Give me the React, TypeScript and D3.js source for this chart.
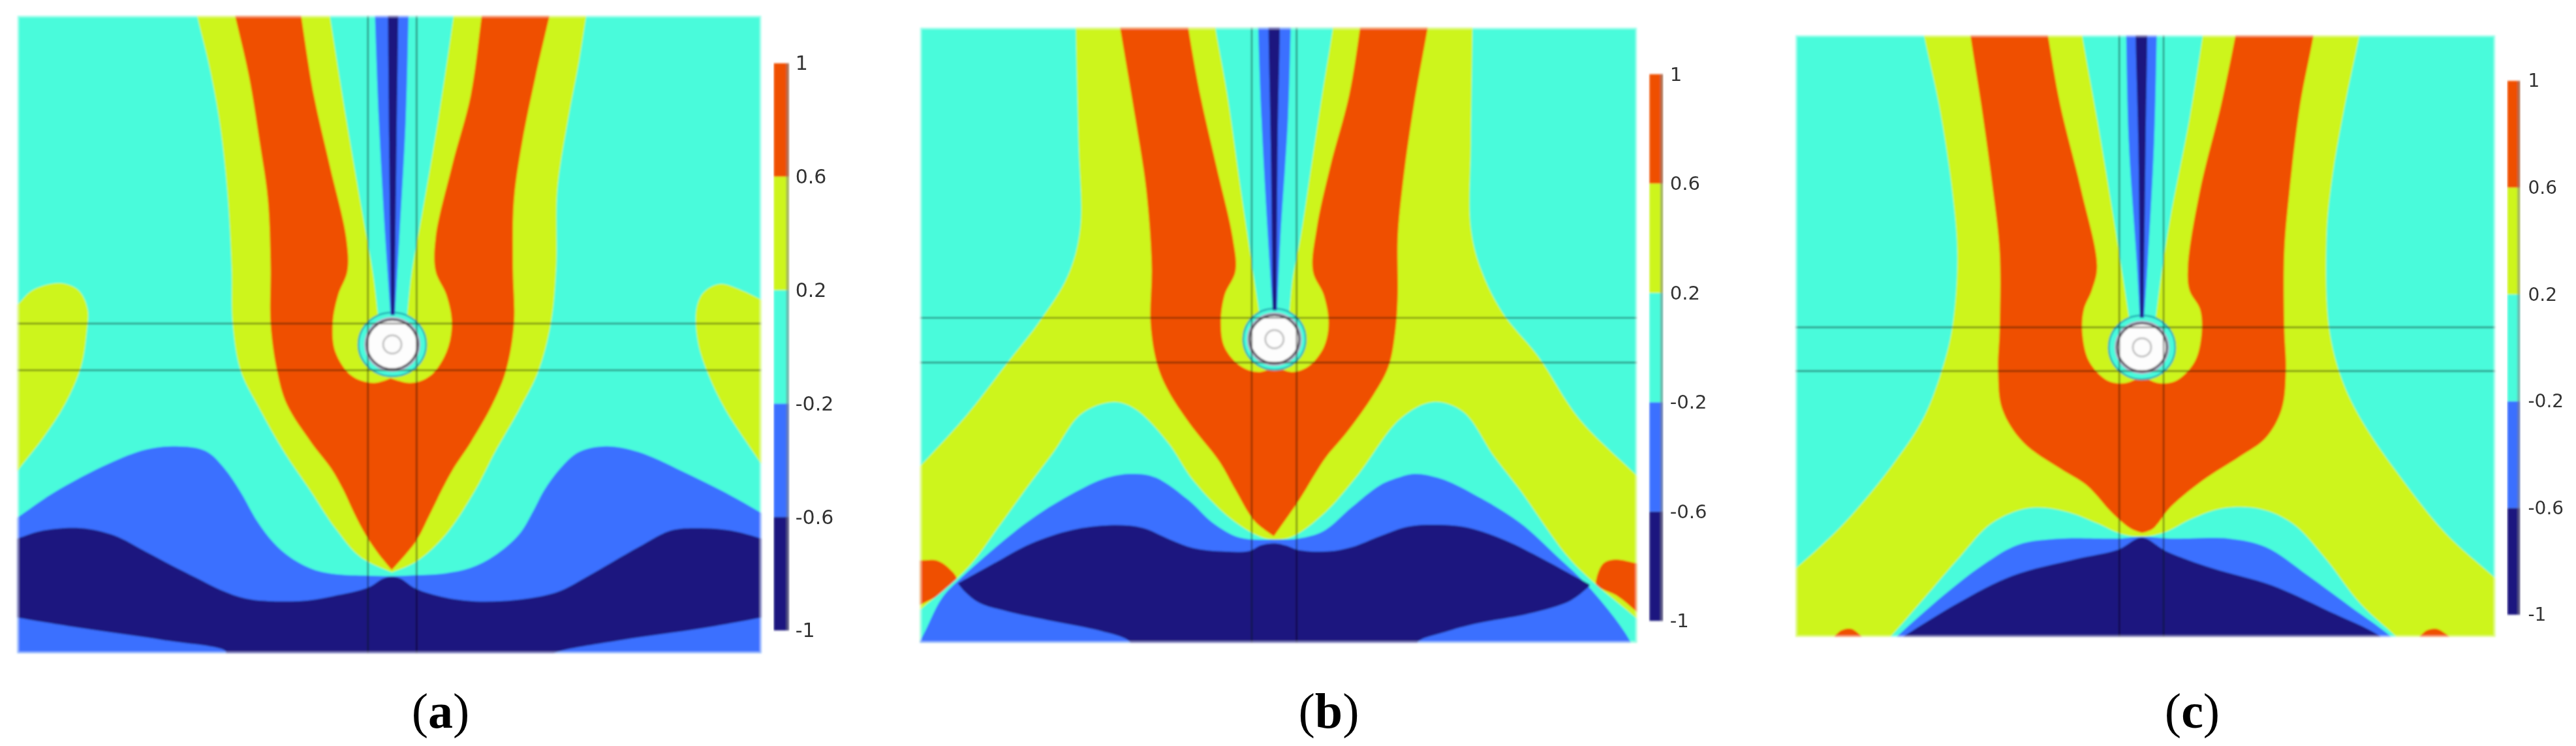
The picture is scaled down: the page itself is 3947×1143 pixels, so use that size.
import React from 'react'
import * as d3 from 'd3'

type Pt = [number, number]

// contour edges on a 1568 x 1568 reading grid per crop
const levelEdges = [-1, -0.6, -0.2, 0.2, 0.6, 1]
const levelColors = ['#1a157f', '#3a70ff', '#48fbdb', '#cdf51e', '#ef5000']
const tickLabels = ['1', '0.6', '0.2', '-0.2', '-0.6', '-1']
const tickValues = [1, 0.6, 0.2, -0.2, -0.6, -1]
const [NAVY, BLUE, CYAN, YELLOW, ORANGE] = levelColors

// panel a
const aBlobL: Pt[] = [[0, 665], [32, 640], [60, 610], [110, 595], [145, 610], [162, 650], [160, 700], [150, 770], [120, 850], [80, 920], [32, 990], [0, 1040]]
const aBlobR: Pt[] = [[1440, 650], [1407, 630], [1370, 610], [1330, 597], [1300, 615], [1287, 650], [1290, 720], [1310, 790], [1340, 860], [1380, 930], [1407, 975], [1440, 1030]]
const aYellowL: Pt[] = [[360, 0], [365, 36], [385, 130], [405, 250], [420, 400], [428, 560], [430, 680], [445, 780], [480, 860], [525, 950], [572, 1029], [620, 1111], [666, 1171], [724, 1203]]
const aYellowR: Pt[] = [[724, 1203], [770, 1180], [823, 1125], [879, 1029], [915, 950], [960, 860], [995, 780], [1018, 680], [1028, 560], [1030, 400], [1050, 250], [1070, 130], [1083, 36], [1088, 0]]
const aOrangeL: Pt[] = [[428, 0], [435, 36], [460, 160], [480, 300], [495, 420], [500, 560], [500, 680], [512, 780], [530, 850], [575, 930], [612, 985], [634, 1029], [655, 1080], [676, 1125], [700, 1165], [724, 1198]]
const aOrangeR: Pt[] = [[724, 1198], [768, 1139], [795, 1080], [817, 1029], [838, 985], [870, 930], [910, 850], [935, 780], [950, 680], [948, 560], [950, 420], [965, 300], [990, 160], [1015, 36], [1022, 0]]
const aInnerL: Pt[] = [[552, 0], [557, 36], [580, 200], [610, 350], [640, 500], [642, 570], [625, 620], [615, 680], [620, 740], [650, 790], [690, 805], [722, 795]]
const aInnerR: Pt[] = [[722, 795], [760, 805], [795, 790], [825, 740], [835, 680], [825, 620], [805, 570], [805, 500], [835, 350], [870, 200], [890, 36], [895, 0]]
const aCyanL: Pt[] = [[605, 0], [610, 36], [640, 250], [670, 450], [690, 580], [702, 700]]
const aCyanR: Pt[] = [[750, 700], [760, 580], [780, 450], [810, 250], [838, 36], [842, 0]]
const aNeedleL: Pt[] = [[692, 0], [693, 36], [700, 250], [712, 500], [722, 662]]
const aNeedleR: Pt[] = [[730, 662], [738, 500], [750, 250], [755, 36], [756, 0]]
const aCoreL: Pt[] = [[717, 0], [717, 36], [719, 300], [723, 662]]
const aCoreR: Pt[] = [[729, 662], [733, 300], [736, 36], [736, 0]]
const aBlueTop: Pt[] = [[0, 1112], [32, 1088], [100, 1035], [200, 975], [270, 945], [325, 938], [380, 948], [415, 985], [445, 1035], [475, 1095], [505, 1140], [537, 1172], [579, 1197], [620, 1207], [680, 1210], [724, 1211], [768, 1209], [823, 1205], [869, 1194], [915, 1167], [960, 1122], [985, 1075], [1006, 1030], [1035, 985], [1070, 950], [1120, 938], [1180, 950], [1260, 990], [1340, 1035], [1407, 1078], [1440, 1100]]
const aNavyTop: Pt[] = [[0, 1145], [32, 1132], [80, 1115], [150, 1110], [210, 1125], [270, 1160], [320, 1190], [362, 1214], [408, 1240], [454, 1258], [510, 1264], [569, 1262], [615, 1253], [680, 1235], [708, 1216], [724, 1212], [740, 1216], [768, 1237], [823, 1256], [879, 1264], [962, 1260], [1031, 1244], [1085, 1212], [1180, 1150], [1240, 1115], [1290, 1110], [1350, 1115], [1407, 1132], [1440, 1145]]
const aNavyBottom: Pt[] = [[1440, 1291], [1407, 1298], [1300, 1320], [1150, 1345], [1030, 1370], [1000, 1385], [410, 1385], [418, 1370], [300, 1345], [150, 1320], [32, 1298], [0, 1291]]

// panel b
const bYellowL: Pt[] = [[360, 0], [360, 60], [365, 300], [368, 480], [345, 580], [290, 680], [235, 760], [160, 870], [72, 980], [30, 1030]]
const bYellowR: Pt[] = [[1440, 1050], [1397, 1000], [1290, 880], [1215, 750], [1150, 660], [1110, 570], [1090, 480], [1090, 300], [1093, 60], [1093, 0]]
const bOrangeL: Pt[] = [[434, 0], [442, 60], [470, 250], [490, 400], [500, 560], [498, 680], [510, 765], [530, 820], [570, 890], [625, 970], [655, 1030], [690, 1095], [726, 1127]]
const bOrangeR: Pt[] = [[726, 1127], [775, 1047], [800, 1000], [823, 960], [860, 910], [910, 830], [938, 770], [950, 700], [955, 620], [955, 500], [965, 380], [985, 220], [1010, 60], [1018, 0]]
const bInnerL: Pt[] = [[560, 0], [568, 60], [590, 200], [620, 350], [650, 500], [655, 570], [635, 620], [628, 680], [635, 730], [665, 770], [700, 782], [728, 770]]
const bInnerR: Pt[] = [[728, 770], [760, 782], [790, 770], [818, 730], [827, 680], [818, 620], [798, 570], [805, 480], [830, 350], [865, 200], [885, 60], [892, 0]]
const bCyanL: Pt[] = [[610, 0], [618, 60], [640, 200], [665, 400], [690, 590], [705, 700]]
const bCyanR: Pt[] = [[752, 700], [760, 590], [775, 500], [795, 350], [815, 200], [835, 60], [842, 0]]
const bNeedleL: Pt[] = [[696, 0], [697, 60], [703, 250], [715, 500], [724, 652]]
const bNeedleR: Pt[] = [[732, 652], [738, 500], [752, 250], [757, 60], [758, 0]]
const bCoreL: Pt[] = [[716, 0], [716, 60], [720, 300], [724, 652]]
const bCoreR: Pt[] = [[731, 652], [733, 300], [737, 60], [737, 0]]
const bCyanTop: Pt[] = [[30, 1315], [78, 1276], [164, 1189], [215, 1111], [267, 1029], [319, 950], [370, 870], [430, 845], [470, 860], [530, 930], [577, 1010], [646, 1090], [700, 1128], [726, 1134], [760, 1128], [818, 1080], [880, 1000], [960, 880], [1020, 845], [1075, 865], [1133, 960], [1180, 1029], [1266, 1166], [1309, 1216], [1396, 1299], [1440, 1340]]
const bBlueTop: Pt[] = [[40, 1400], [73, 1345], [112, 1258], [142, 1221], [267, 1100], [350, 1040], [418, 1004], [465, 996], [508, 1004], [569, 1052], [612, 1098], [663, 1130], [728, 1134], [771, 1132], [818, 1116], [870, 1066], [922, 1020], [956, 1004], [986, 996], [1034, 1006], [1094, 1038], [1180, 1098], [1250, 1170], [1309, 1235], [1383, 1345], [1400, 1400]]
const bNavyTop: Pt[] = [[142, 1226], [215, 1180], [276, 1143], [353, 1114], [422, 1104], [482, 1109], [534, 1134], [577, 1152], [629, 1159], [680, 1158], [702, 1146], [728, 1142], [749, 1147], [771, 1156], [827, 1159], [870, 1150], [922, 1127], [973, 1107], [1025, 1103], [1085, 1109], [1154, 1136], [1223, 1175], [1283, 1212], [1309, 1228]]
const bNavyBottom: Pt[] = [[1309, 1232], [1275, 1262], [1197, 1290], [1094, 1312], [1034, 1331], [995, 1346], [980, 1365], [470, 1365], [457, 1346], [405, 1326], [319, 1306], [233, 1285], [181, 1267], [155, 1244], [142, 1226]]
const bBlobL: Pt[] = [[30, 1178], [73, 1178], [103, 1178], [125, 1194], [140, 1219], [112, 1248], [73, 1271], [30, 1300]]
const bBlobR: Pt[] = [[1440, 1195], [1396, 1184], [1357, 1176], [1335, 1184], [1322, 1216], [1322, 1230], [1361, 1253], [1396, 1285], [1440, 1325]]

// panel c
const cYellowL: Pt[] = [[320, 0], [332, 76], [360, 220], [385, 400], [395, 540], [385, 690], [365, 780], [330, 880], [270, 980], [180, 1100], [88, 1195], [50, 1230]]
const cYellowR: Pt[] = [[1450, 1250], [1415, 1215], [1320, 1120], [1240, 1010], [1165, 890], [1125, 800], [1100, 690], [1095, 500], [1105, 380], [1130, 220], [1157, 76], [1170, 0]]
const cOrangeL: Pt[] = [[412, 0], [420, 76], [440, 220], [460, 380], [475, 530], [475, 690], [472, 780], [480, 860], [520, 930], [590, 985], [640, 1020], [690, 1080], [725, 1112], [745, 1120]]
const cOrangeR: Pt[] = [[745, 1120], [765, 1112], [800, 1065], [860, 1010], [930, 960], [980, 920], [1010, 860], [1018, 780], [1015, 690], [1015, 530], [1025, 400], [1045, 220], [1070, 76], [1080, 0]]
const cInnerL: Pt[] = [[555, 0], [567, 76], [590, 220], [630, 400], [660, 560], [650, 610], [635, 650], [632, 700], [645, 760], [680, 800], [715, 805], [745, 790]]
const cInnerR: Pt[] = [[745, 790], [775, 805], [810, 800], [845, 760], [858, 700], [855, 650], [835, 610], [832, 560], [855, 400], [895, 220], [922, 76], [935, 0]]
const cCyanL: Pt[] = [[622, 0], [632, 76], [660, 250], [690, 450], [710, 590], [725, 700]]
const cCyanR: Pt[] = [[768, 700], [780, 590], [800, 450], [835, 250], [860, 76], [870, 0]]
const cNeedleL: Pt[] = [[714, 0], [715, 76], [720, 300], [735, 550], [741, 668]]
const cNeedleR: Pt[] = [[749, 668], [756, 550], [768, 300], [773, 76], [774, 0]]
const cCoreL: Pt[] = [[733, 0], [733, 76], [738, 300], [742, 668]]
const cCoreR: Pt[] = [[748, 668], [752, 300], [755, 76], [755, 0]]
const cCyanTop: Pt[] = [[230, 1380], [270, 1336], [330, 1260], [400, 1170], [460, 1100], [530, 1068], [600, 1075], [660, 1100], [705, 1122], [745, 1128], [790, 1118], [840, 1090], [900, 1068], [970, 1070], [1030, 1100], [1090, 1170], [1160, 1270], [1225, 1336], [1265, 1380]]
const cBlueTop: Pt[] = [[240, 1380], [282, 1336], [370, 1250], [440, 1190], [510, 1145], [590, 1132], [700, 1132], [745, 1128], [800, 1132], [910, 1132], [980, 1150], [1060, 1210], [1140, 1275], [1215, 1336], [1255, 1380]]
const cNavyTop: Pt[] = [[235, 1380], [295, 1336], [400, 1265], [500, 1210], [620, 1175], [700, 1155], [745, 1130], [790, 1158], [880, 1195], [990, 1230], [1100, 1285], [1195, 1336], [1240, 1380]]
const cBlobL: Pt[] = [[160, 1340], [175, 1325], [195, 1322], [215, 1340]]
const cBlobR: Pt[] = [[1270, 1340], [1285, 1325], [1305, 1322], [1330, 1340]]

const smooth = d3.line<Pt>().curve(d3.curveCatmullRom.alpha(0.5))

type Region = { fill: string; parts: Pt[][] }

const panels = [
  {
    id: 'a', label: 'a', cropX: 0, cropW: 1300, box: [32, 1407, 33, 1373], bar: [1430, 1458, 133, 1325], tickX: 1470, font: 30,
    vLines: [680, 770], hLines: [680, 778], ring: [725, 724, 52, 49, 39],
    captionX: 675,
    regions: [
      { fill: YELLOW, parts: [aBlobL] }, { fill: YELLOW, parts: [aBlobR] },
      { fill: YELLOW, parts: [aYellowL, aYellowR] },
      { fill: ORANGE, parts: [aOrangeL, aOrangeR] },
      { fill: YELLOW, parts: [aInnerL, aInnerR] },
      { fill: CYAN, parts: [aCyanL, aCyanR] },
    ] as Region[],
    needle: [[aNeedleL, aNeedleR], [aCoreL, aCoreR]],
    lower: [
      { fill: BLUE, parts: [aBlueTop, [[1440, 1400], [0, 1400]]] },
      { fill: NAVY, parts: [aNavyTop, aNavyBottom] },
    ] as Region[],
  },
  {
    id: 'b', label: 'b', cropX: 1350, cropW: 1300, box: [72, 1397, 58, 1351], bar: [1420, 1445, 156, 1305], tickX: 1458, font: 29,
    vLines: [685, 768], hLines: [668, 762], ring: [727, 713, 48, 47, 38],
    captionX: 2036,
    regions: [
      { fill: YELLOW, parts: [bYellowL, [[30, 1400], [1440, 1400]], bYellowR] },
      { fill: ORANGE, parts: [bOrangeL, bOrangeR] },
      { fill: YELLOW, parts: [bInnerL, bInnerR] },
      { fill: CYAN, parts: [bCyanL, bCyanR] },
    ] as Region[],
    needle: [[bNeedleL, bNeedleR], [bCoreL, bCoreR]],
    lower: [
      { fill: ORANGE, parts: [bBlobL] }, { fill: ORANGE, parts: [bBlobR] },
      { fill: CYAN, parts: [bCyanTop, [[1440, 1400], [30, 1400]]] },
      { fill: BLUE, parts: [bBlueTop] },
      { fill: NAVY, parts: [bNavyTop, bNavyBottom] },
    ] as Region[],
  },
  {
    id: 'c', label: 'c', cropX: 2680, cropW: 1267, box: [88, 1415, 74, 1339], bar: [1438, 1462, 170, 1292], tickX: 1477, font: 28,
    vLines: [702, 786], hLines: [688, 780], ring: [745, 730, 51, 49, 38],
    captionX: 3359,
    regions: [
      { fill: YELLOW, parts: [cYellowL, [[50, 1400], [1450, 1400]], cYellowR] },
      { fill: ORANGE, parts: [cOrangeL, cOrangeR] },
      { fill: YELLOW, parts: [cInnerL, cInnerR] },
      { fill: CYAN, parts: [cCyanL, cCyanR] },
    ] as Region[],
    needle: [[cNeedleL, cNeedleR], [cCoreL, cCoreR]],
    lower: [
      { fill: ORANGE, parts: [cBlobL] }, { fill: ORANGE, parts: [cBlobR] },
      { fill: CYAN, parts: [cCyanTop] },
      { fill: BLUE, parts: [cBlueTop] },
      { fill: NAVY, parts: [cNavyTop] },
    ] as Region[],
  },
]

function Panel({ p }: { p: (typeof panels)[number] }) {
  const x = d3.scaleLinear().domain([0, 1568]).range([p.cropX, p.cropX + p.cropW])
  const y = d3.scaleLinear().domain([0, 1568]).range([0, 1143])
  const line = smooth.x(d => x(d[0])).y(d => y(d[1]))
  const toPath = (parts: Pt[][]) =>
    parts.map((s, i) => (i === 0 ? line(s) : (line(s) as string).replace('M', 'L'))).join('') + 'Z'

  const [x0, x1, y0, y1] = p.box
  const [bx0, bx1, by0, by1] = p.bar
  const level = d3.scaleLinear().domain([-1, 1]).range([y(by1), y(by0)])
  const [cx, cy, rx, ry, rDark] = p.ring

  const drawRegion = (r: Region, i: number) => <path key={i} d={toPath(r.parts)} fill={r.fill} />

  return (
    <g>
      <clipPath id={'clip-' + p.id}>
        <rect x={x(x0)} y={y(y0)} width={x(x1) - x(x0)} height={y(y1) - y(y0)} />
      </clipPath>
      <g filter="url(#soft)">
        <g clipPath={`url(#clip-${p.id})`}>
          <rect x={x(x0)} y={y(y0)} width={x(x1) - x(x0)} height={y(y1) - y(y0)} fill={CYAN} />
          {p.regions.map(drawRegion)}
          <ellipse cx={x(cx)} cy={y(cy)} rx={rx} ry={ry} fill={CYAN} stroke="#1fa6b0" strokeWidth={2.5} />
          <ellipse cx={x(cx)} cy={y(cy)} rx={rDark + 4} ry={rDark + 3} fill="#b9b4cc" />
          <ellipse cx={x(cx)} cy={y(cy)} rx={rDark} ry={rDark - 1} fill="#fdfdfd" stroke="#4a4a50" strokeWidth={3} />
          <circle cx={x(cx)} cy={y(cy)} r={14} fill="none" stroke="#b5b5b5" strokeWidth={2.5} />
          {p.needle.map((n, i) => (
            <path key={i} d={toPath(n)} fill={i === 0 ? BLUE : NAVY} />
          ))}
          {p.lower.map(drawRegion)}
          {p.vLines.map(v => (
            <line key={v} x1={x(v)} x2={x(v)} y1={y(y0)} y2={y(y1)} stroke="#000" strokeOpacity={0.6} strokeWidth={2} />
          ))}
          {p.hLines.map(h => (
            <line key={h} x1={x(x0)} x2={x(x1)} y1={y(h)} y2={y(h)} stroke="#000" strokeOpacity={0.6} strokeWidth={2} />
          ))}
          <rect x={x(x0) + 1} y={y(y0) + 1} width={x(x1) - x(x0) - 2} height={y(y1) - y(y0) - 2} fill="none" stroke="#fff" strokeOpacity={0.5} strokeWidth={3} />
        </g>
      </g>
      <g filter="url(#soft)">
        {levelColors.map((c, i) => (
          <rect key={c} x={x(bx0)} width={x(bx1) - x(bx0)} y={level(levelEdges[i + 1])} height={level(levelEdges[i]) - level(levelEdges[i + 1])} fill={c} />
        ))}
        <rect x={x(bx1) - 4} width={4} y={y(by0)} height={y(by1) - y(by0)} fill="#808080" fillOpacity={0.6} />
      </g>
      <g filter="url(#softer)" fontFamily="'DejaVu Sans', sans-serif" fontSize={p.font} fill="#333">
        {tickLabels.map((t, i) => (
          <text key={t} x={x(p.tickX)} y={level(tickValues[i])} dominantBaseline="central">{t}</text>
        ))}
      </g>
      <text x={p.captionX} y={1115} textAnchor="middle" fontFamily="'Liberation Serif', serif" fontSize={76} fill="#000">
        (<tspan fontWeight="bold">{p.label}</tspan>)
      </text>
    </g>
  )
}

export default function App() {
  return (
    <svg width={3947} height={1143} style={{ position: 'absolute', left: 0, top: 0, background: '#fff' }}>
      <defs>
        <filter id="soft" x="-2%" y="-2%" width="104%" height="104%">
          <feGaussianBlur stdDeviation={1.6} />
        </filter>
        <filter id="softer" x="-5%" y="-5%" width="110%" height="110%">
          <feGaussianBlur stdDeviation={0.7} />
        </filter>
      </defs>
      {panels.map(p => (
        <Panel key={p.id} p={p} />
      ))}
    </svg>
  )
}
